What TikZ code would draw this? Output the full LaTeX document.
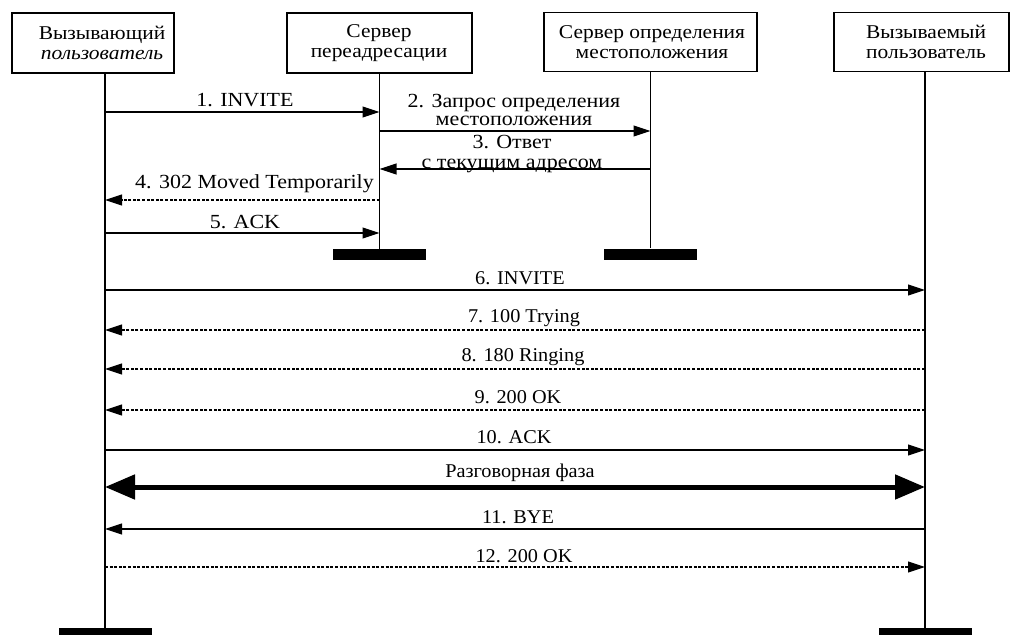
\documentclass[tikz,border=0pt]{standalone}
\usepackage{fontspec}
\setmainfont{Liberation Serif}
\newfontfamily\upfont{Liberation Serif}[FakeStretch=1.1]
\newfontfamily\lowfont{Liberation Serif}[FakeStretch=1.04]
\usetikzlibrary{arrows.meta}
\begin{document}
\begin{tikzpicture}[x=1pt,y=-1pt,
  box/.style={draw, line width=1.3pt, inner sep=0pt},
  boxtext/.style={align=center, inner sep=0pt, font=\upfont\fontsize{19.5}{20}\selectfont},
  life/.style={line width=1.4pt},
  msg/.style={line width=1.1pt, -{Triangle[length=17pt,width=11pt]}},
  rep/.style={msg, dash pattern=on 3pt off 1.6pt},
  talk/.style={line width=5pt, {Triangle[length=30pt,width=24pt]}-{Triangle[length=30pt,width=24pt]}},
  endbar/.style={fill=black, inner sep=0pt, minimum width=93pt, minimum height=11pt},
  ulbl/.style={align=center, inner sep=0pt, font=\upfont\fontsize{20}{18}\selectfont},
  llbl/.style={align=center, inner sep=0pt, font=\lowfont\fontsize{19.5}{18}\selectfont}]
\useasboundingbox (0,0) rectangle (1011,634);
\fill[white] (0,0) rectangle (1011,634);

% participant boxes
\node[box, minimum width=162pt, minimum height=60pt] (A) at (93,43) {};
\node[box, minimum width=185pt, minimum height=60pt] (B) at (379.5,43) {};
\node[box, minimum width=213pt, minimum height=59pt] (C) at (650.5,42) {};
\node[box, minimum width=175pt, minimum height=59pt] (D) at (921.5,42) {};
\node[boxtext] (At) at (102,43) {Вызывающий\\\itshape пользователь};
\node[boxtext] (Bt) at (379,43) {Сервер\\переадресации};
\node[boxtext] (Ct) at (652,42) {Сервер определения\\местоположения};
\node[boxtext] (Dt) at (926,42) {Вызываемый\\пользователь};

% end bars
\node[endbar] (abar) at (105,633.5) {};
\node[endbar] (bbar) at (379.5,254.5) {};
\node[endbar] (cbar) at (650.5,254) {};
\node[endbar] (dbar) at (925,633.5) {};

% lifelines
\draw[life] (A.south -| abar) -- (abar.north);
\draw[life] (B.south -| bbar) -- (bbar.north);
\draw[life] (C.south -| cbar) -- (cbar.north);
\draw[life] (D.south -| dbar) -- (dbar.north);

% messages
\draw[msg] (abar |- 0,112) -- (bbar |- 0,112);
\node[ulbl] (l1) at (245,100) {1. INVITE};
\draw[msg] (bbar |- 0,131) -- (cbar |- 0,131);
\node[ulbl] (l2) at (514,110) {2. Запрос определения\\местоположения};
\draw[msg] (cbar |- 0,169) -- (bbar |- 0,169);
\node[ulbl, font=\upfont\fontsize{20}{20}\selectfont] (l3) at (512,154) {3. Ответ\\с текущим адресом};
\draw[rep] (bbar |- 0,200) -- (abar |- 0,200);
\node[ulbl, anchor=east] (l4) at (374,184) {4. 302 Moved Temporarily};
\draw[msg] (abar |- 0,233) -- (bbar |- 0,233);
\node[ulbl] (l5) at (245,222) {5. ACK};

\draw[msg] (abar |- 0,290) -- (dbar |- 0,290);
\node[llbl] (l6) at (520,278) {6. INVITE};
\draw[rep] (dbar |- 0,330) -- (abar |- 0,330);
\node[llbl] (l7) at (524,318) {7. 100 Trying};
\draw[rep] (dbar |- 0,369) -- (abar |- 0,369);
\node[llbl] (l8) at (523,357) {8. 180 Ringing};
\draw[rep] (dbar |- 0,410) -- (abar |- 0,410);
\node[llbl] (l9) at (518,397) {9. 200 OK};
\draw[msg] (abar |- 0,450) -- (dbar |- 0,450);
\node[llbl] (l10) at (514,437) {10. ACK};
\draw[talk] (abar |- 0,487) -- (dbar |- 0,487);
\node[llbl] (lt) at (520,473) {Разговорная фаза};
\draw[msg] (dbar |- 0,529) -- (abar |- 0,529);
\node[llbl] (l11) at (518,517) {11. BYE};
\draw[rep] (abar |- 0,567) -- (dbar |- 0,567);
\node[llbl] (l12) at (524,556) {12. 200 OK};
\end{tikzpicture}
\end{document}
